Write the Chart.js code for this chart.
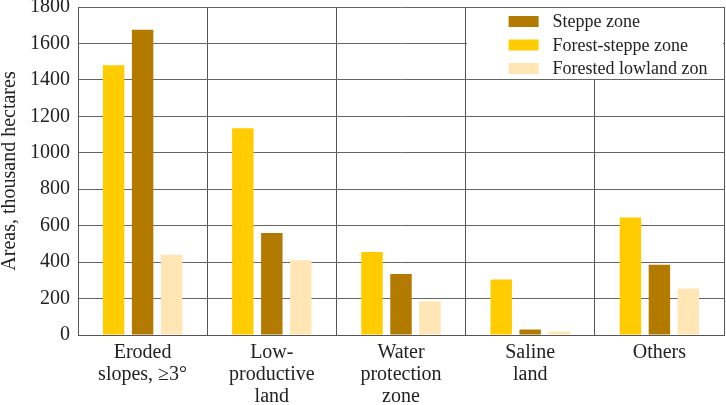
<!doctype html>
<html>
    <head>
        <meta charset="utf-8"/>
        <title>Areas by zone</title>
        <style>
            body { margin: 0; background: #fff; }
            canvas { display: block; }
        </style>
    </head>
    <body>
        <canvas id="myChart" width="726" height="405"></canvas>

        <script src="https://cdn.jsdelivr.net/npm/chart.js@4.4.1/dist/chart.umd.min.js"></script>
        <script>
            // data, thousand hectares
            var categories = [
                ["Eroded", "slopes, \u22653\u00b0"],
                ["Low-", "productive", "land"],
                ["Water", "protection", "zone"],
                ["Saline", "land"],
                ["Others"]
            ];
            var forestSteppe = [1480, 1135, 455, 305, 645];
            var steppe = [1675, 560, 335, 30, 385];
            var forestedLowland = [440, 410, 185, 20, 255];
            var seriesNames = ["Forest-steppe zone", "Steppe zone", "Forested lowland zon"];
            var legendOrder = [1, 0, 2];
            var yMax = 1800;
            var yStep = 200;
            var legendBottomValue = 1400;

            var FONT = "'Liberation Serif', 'DejaVu Serif', serif";
            var colors = ['#ffcc00', '#b37a00', '#ffe6b4'];

            // legend sits inside the plot, top right, on a white patch
            var insideLegend = {
                id: 'insideLegend',
                afterDatasetsDraw: function (chart) {
                    var ctx = chart.ctx;
                    var area = chart.chartArea;
                    var x = chart.scales.x, y = chart.scales.y;
                    var xb = (x.getPixelForValue(2) + x.getPixelForValue(3)) / 2;
                    var yb = y.getPixelForValue(legendBottomValue);
                    ctx.save();
                    ctx.fillStyle = '#fff';
                    var l = Math.round(xb) + 1, t = Math.round(area.top) + 1;
                    ctx.fillRect(l, t, Math.round(area.right) - 1 - l, Math.round(yb) - 1 - t);

                    ctx.font = '18px ' + FONT;
                    ctx.textBaseline = 'middle';
                    ctx.textAlign = 'left';
                    legendOrder.forEach(function (di, row) {
                        var ds = chart.data.datasets[di];
                        var cy = area.top + 14.5 + row * 23.5;
                        ctx.fillStyle = ds.backgroundColor;
                        ctx.fillRect(xb + 43, cy - 5.5, 30, 11);
                        ctx.fillStyle = '#222';
                        ctx.fillText(ds.label, xb + 87, cy + 1);
                    });
                    ctx.restore();
                }
            };

            const data = {
                labels: categories,
                datasets: [
                    { label: seriesNames[0], data: forestSteppe, backgroundColor: colors[0] },
                    { label: seriesNames[1], data: steppe, backgroundColor: colors[1] },
                    { label: seriesNames[2], data: forestedLowland, backgroundColor: colors[2] }
                ]
            };

            const config = {
                type: 'bar',
                data,
                options: {
                    responsive: false,
                    animation: false,
                    layout: { padding: { top: 7, right: 2, left: 0, bottom: 0 } },
                    datasets: {
                        bar: { categoryPercentage: 0.673, barPercentage: 0.74 }
                    },
                    plugins: {
                        legend: { display: false },
                        tooltip: { enabled: false }
                    },
                    scales: {
                        x: {
                            grid: { color: '#555', lineWidth: 1, drawTicks: false, offset: true },
                            border: { color: '#555', width: 1 },
                            ticks: {
                                color: '#222',
                                padding: 7,
                                maxRotation: 0,
                                autoSkip: false,
                                font: { family: FONT, size: 20, lineHeight: 1.1 }
                            },
                            afterFit: function (s) { s.height = 70; s.paddingLeft = 0; s.paddingRight = 0; }
                        },
                        y: {
                            min: 0,
                            max: yMax,
                            grid: { color: '#666', lineWidth: 1, drawTicks: false },
                            border: { color: '#555', width: 1 },
                            ticks: {
                                stepSize: yStep,
                                color: '#222',
                                padding: 8,
                                font: { family: FONT, size: 20 },
                                callback: function (v) { return String(v); }
                            },
                            title: {
                                display: true,
                                text: 'Areas, thousand hectares',
                                color: '#222',
                                padding: 0,
                                font: { family: FONT, size: 20, lineHeight: 1 }
                            },
                            afterFit: function (s) { s.width = 78; s.paddingTop = 0; s.paddingBottom = 0; }
                        }
                    }
                },
                plugins: [insideLegend]
            };

            var myChart = new Chart(document.getElementById('myChart'), config);
        </script>
    </body>
</html>
